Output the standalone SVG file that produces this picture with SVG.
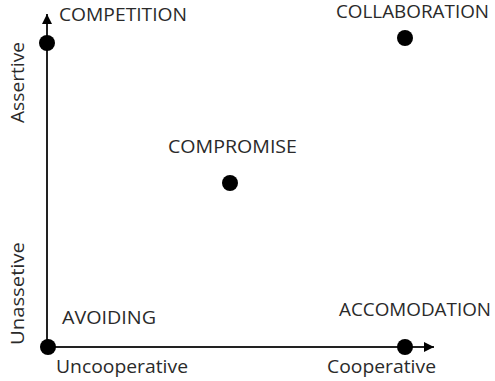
<svg xmlns="http://www.w3.org/2000/svg" width="495" height="381" viewBox="0 0 495 381">
<style>
.lbl{font-family:"Open Sans","Noto Sans",sans-serif;font-size:18.5px;fill:#2a2a2a}
.ax{font-family:"Open Sans","Noto Sans",sans-serif;font-size:18px;fill:#2a2a2a}
.dot{fill:#000}
.axis{stroke:#222;stroke-width:2;fill:none}
</style>
<defs>
<marker id="arr" viewBox="0 0 10 10" refX="10" refY="5" markerWidth="11" markerHeight="10" markerUnits="userSpaceOnUse" orient="auto">
<path d="M0,0 L10,5 L0,10 z" fill="#000"/>
</marker>
</defs>
<rect width="495" height="381" fill="#fff"/>
<g id="connectors">
<line class="axis" x1="47" y1="347" x2="47" y2="14" marker-end="url(#arr)"/>
<line class="axis" x1="47" y1="347" x2="434" y2="347" marker-end="url(#arr)"/>
</g>
<g id="competition"><circle class="dot" cx="47" cy="43" r="8"/><text class="lbl" x="59" y="21" textLength="128" lengthAdjust="spacingAndGlyphs">COMPETITION</text></g>
<g id="collaboration"><circle class="dot" cx="405" cy="38" r="8"/><text class="lbl" x="336" y="18" style="font-size:17.5px" textLength="153" lengthAdjust="spacingAndGlyphs">COLLABORATION</text></g>
<g id="compromise"><circle class="dot" cx="230" cy="183" r="8"/><text class="lbl" x="168" y="153" textLength="129" lengthAdjust="spacingAndGlyphs">COMPROMISE</text></g>
<g id="avoiding"><circle class="dot" cx="48" cy="347" r="8"/><text class="lbl" x="62" y="324" textLength="94" lengthAdjust="spacingAndGlyphs">AVOIDING</text></g>
<g id="accomodation"><circle class="dot" cx="405" cy="347" r="8"/><text class="lbl" x="339" y="316" textLength="152" lengthAdjust="spacingAndGlyphs">ACCOMODATION</text></g>
<g id="axis-labels">
<text class="ax" x="56" y="373" textLength="132" lengthAdjust="spacingAndGlyphs">Uncooperative</text>
<text class="ax" x="327" y="373" textLength="109" lengthAdjust="spacingAndGlyphs">Cooperative</text>
<text class="ax" transform="translate(24,123) rotate(-90)" textLength="81" lengthAdjust="spacingAndGlyphs">Assertive</text>
<text class="ax" transform="translate(24,345) rotate(-90)" textLength="103" lengthAdjust="spacingAndGlyphs">Unassetive</text>
</g>
</svg>
